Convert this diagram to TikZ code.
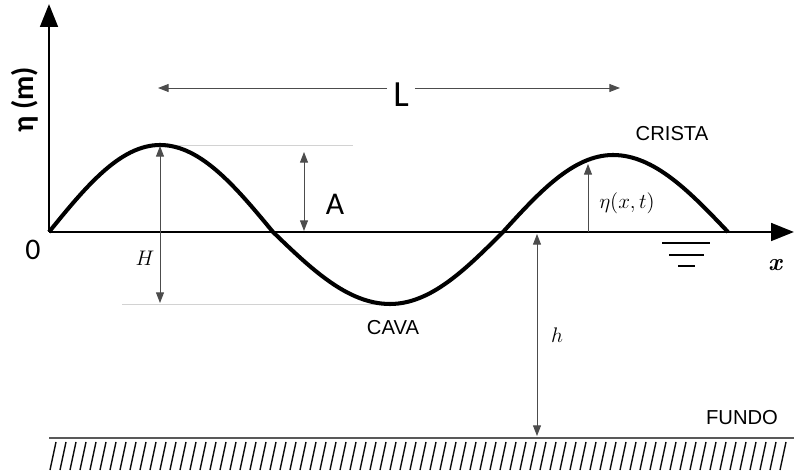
\documentclass[tikz,border=0pt]{standalone}
\usepackage{fontspec}
\setmainfont{Carlito}
\newfontfamily\tagfont{Liberation Sans}
\newfontfamily\serifit{Latin Modern Roman}
\usetikzlibrary{arrows.meta}

\tikzset{
  axis/.style={line width=1.6pt, -{Triangle[length=13pt,width=10pt]}},
  wave/.style={line width=2.3pt, line join=round},
  guide/.style={gray!35, line width=0.5pt},
  dimarrow/.style={gray!60!black, line width=0.55pt, {Triangle[length=6pt,width=4.5pt]}-{Triangle[length=6pt,width=4.5pt]}},
  onearrow/.style={gray!60!black, line width=0.55pt, -{Triangle[length=6pt,width=4.5pt]}},
  tag/.style={font=\tagfont\fontsize{11.5}{13}\selectfont},
  sym/.style={font=\fontsize{12}{14}\selectfont}
}

\begin{document}
\begin{tikzpicture}[x=0.02cm, y=-0.02cm]

\useasboundingbox (0,0) rectangle (794,475);

% Key points
\coordinate (O) at (49,232);
\coordinate (crestA) at (160,145);
\coordinate (zeroA) at (273,232);
\coordinate (troughB) at (390,304);
\coordinate (zeroB) at (503,232);
\coordinate (crestC) at (613,155);
\coordinate (endC) at (728,232);

% Guide lines
\draw[guide] (crestA) -- (353,145);
\draw[guide] (122,304) -- (troughB);

% Axes
\draw[axis] (O) -- (49,4);
\draw[axis] (O) -- (794,232);

% Free surface
\draw[wave] (O) sin (crestA) cos (zeroA) sin (troughB) cos (zeroB) sin (crestC) cos (endC);

% Ground
\draw[gray!70!black, line width=1.5pt] (49,438) -- (794,438);
\foreach \i in {50,60,...,785}
  \draw[gray!10!black, line width=0.8pt] (\i,470) -- (\i+6,442);

% Still water level
\draw[line width=1pt] (662,243) -- (710,243);
\draw[line width=1pt] (669,255) -- (704,255);
\draw[line width=1pt] (678,266) -- (695,266);

% Labels
\node[rotate=90, font=\bfseries\fontsize{17}{20}\selectfont] (etam) at (25,100) {η (m)};
\node[font=\fontsize{17}{20}\selectfont] (zero) at (33,250) {0};
\node[font=\fontsize{21}{24}\selectfont] (Lnode) at (401,95) {L};
\node[font=\fontsize{18}{21}\selectfont] (Anode) at (335,204) {A};
\node[sym] (Hnode) at (145,258) {$H$};
\node[sym] (etaxt) at (627,203) {$\eta(x,t)$};
\node[sym] (hnode) at (557,335) {$h$};
\node[font=\serifit\bfseries\itshape\fontsize{14}{16}\selectfont] (xnode) at (775,265) {x};
\node[tag] (crista) at (672,134) {CRISTA};
\node[tag] (cava) at (393,328) {CAVA};
\node[tag] (fundo) at (742,418) {FUNDO};

% Dimensions
\coordinate (Lleft) at (158,88);
\coordinate (Lright) at (620,88);
\draw[onearrow] (Lnode.west |- Lleft) -- (Lleft);
\draw[onearrow] (Lnode.east |- Lright) -- (Lright);

\coordinate (Htop) at (160,146);
\coordinate (Hbot) at (160,303);
\draw[dimarrow] (Htop) -- (Hbot);

\coordinate (Atop) at (304,152);
\coordinate (Abot) at (304,231);
\draw[dimarrow] (Atop) -- (Abot);

\coordinate (etabase) at (588,232);
\coordinate (etatop) at (588,164);
\draw[onearrow] (etabase) -- (etatop);

\coordinate (htop) at (537,234);
\coordinate (hbot) at (537,436);
\draw[dimarrow] (htop) -- (hbot);

\end{tikzpicture}
\end{document}
